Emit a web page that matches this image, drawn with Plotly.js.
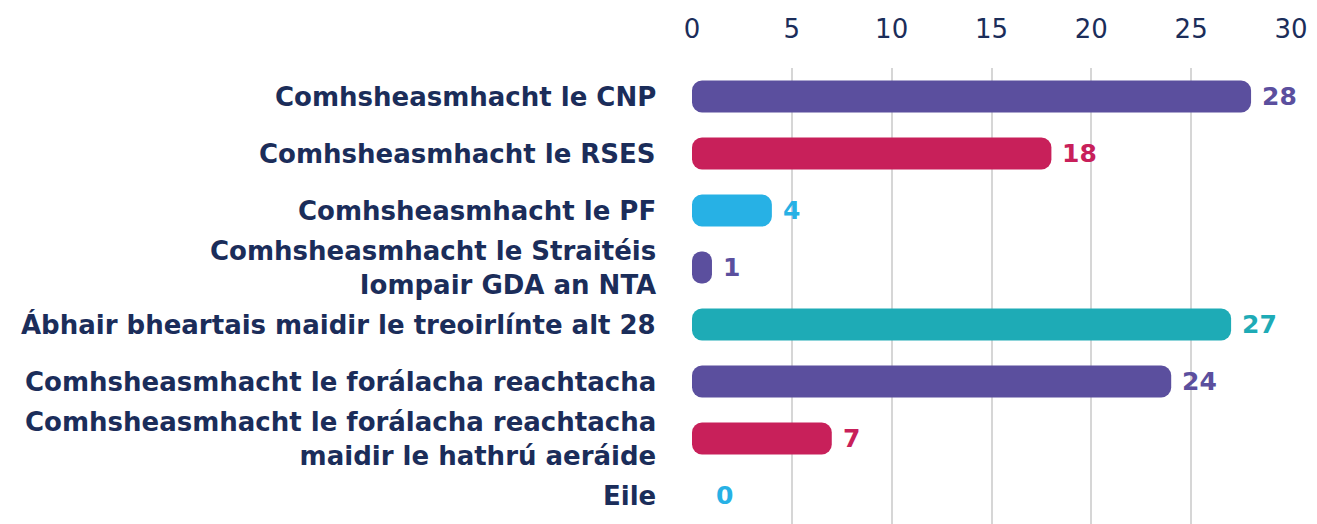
<!DOCTYPE html>
<html>
<head>
<meta charset="utf-8">
<script src="https://cdn.plot.ly/plotly-3.0.1.min.js"></script>
<style>html,body{margin:0;padding:0;background:#fff;}#chart{width:1317px;height:524px;}</style>
</head>
<body>
<div id="chart"></div>
<script>
const categories = [
  "Comhsheasmhacht le CNP",
  "Comhsheasmhacht le RSES",
  "Comhsheasmhacht le PF",
  "Comhsheasmhacht le Straitéis<br>Iompair GDA an NTA",
  "Ábhair bheartais maidir le treoirlínte alt 28",
  "Comhsheasmhacht le forálacha reachtacha",
  "Comhsheasmhacht le forálacha reachtacha<br>maidir le hathrú aeráide",
  "Eile"
];
const values = [28, 18, 4, 1, 27, 24, 7, 0];
const xTicks = [0, 5, 10, 15, 20, 25, 30];

const barColors = ["#5b4f9e", "#c8205a", "#27b1e5", "#5b4f9e", "#1eabb6", "#5b4f9e", "#c8205a", "#27b1e5"];
const navy = "#1b2d5a";
const FONT = "DejaVu Sans";

// An explicit base makes Plotly round both ends of each bar.
const trace = {
  type: "bar", orientation: "h",
  y: categories, base: values.map(() => 0), x: values,
  width: 0.56,
  marker: {color: barColors, cornerradius: 10, line: {width: 0}},
  hoverinfo: "none"
};

const annotations = [];
values.forEach((v, i) => {
  annotations.push({
    x: v, y: categories[i], xref: "x", yref: "y",
    text: String(v), showarrow: false,
    xanchor: "left", xshift: v === 0 ? 22 : 9,
    font: {family: FONT, size: 25, color: barColors[i], weight: 700}
  });
});
categories.forEach((c, i) => {
  annotations.push({
    x: 0, y: c, xref: "paper", yref: "y",
    text: c, showarrow: false, align: "right",
    xanchor: "right", xshift: -34,
    font: {family: FONT, size: 26, color: navy, weight: 700}
  });
});

const layout = {
  width: 1317, height: 524,
  margin: {l: 692, r: 26, t: 68, b: 0},
  paper_bgcolor: "#fff", plot_bgcolor: "#fff",
  showlegend: false,
  xaxis: {
    side: "top", range: [0, 30], tickvals: xTicks, ticktext: xTicks.map(String),
    showgrid: true, gridcolor: "#d6d6d6", gridwidth: 2, zeroline: false,
    showline: false, ticks: "", ticklabelstandoff: 24,
    tickfont: {family: FONT, size: 26, color: navy},
    fixedrange: true
  },
  yaxis: {
    autorange: "reversed", type: "category",
    showgrid: false, zeroline: false, showline: false, ticks: "",
    showticklabels: false,
    fixedrange: true
  },
  annotations: annotations
};

Plotly.newPlot("chart", [trace], layout, {displayModeBar: false, staticPlot: true});
</script>
</body>
</html>
